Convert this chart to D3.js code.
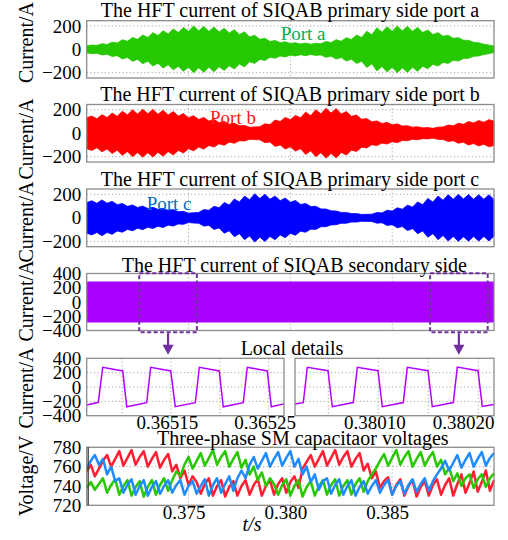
<!DOCTYPE html>
<html>
<head>
<meta charset="utf-8">
<script src="https://cdn.jsdelivr.net/npm/d3@7/dist/d3.min.js"></script>
<style>
  html, body { margin: 0; padding: 0; background: #fff; }
  svg { display: block; font-family: "Liberation Serif", "Times New Roman", serif; }
</style>
</head>
<body>
<svg id="chart" width="508" height="540"></svg>
<script>
// ---------------- data ----------------
// HFT current envelopes (A), sampled every 0.25 ms from t = 0.370 s (valley / peak alternating)
const envStart = 0.370, envStep = 0.00025;
const portA = [30,37,34,48,42,61,54,82,70,102,86,123,102,143,118,160,132,175,144,188,154,200,158,196,154,191,148,180,140,168,126,150,106,120,86,95,68,76,57,65,50,57,46,54,44,52,48,68,58,83,70,100,84,122,102,155,124,185,146,193,154,200,158,197,154,188,144,165,128,143,112,121,94,100,78,77,60,56,44,37,28];
const portB = [132,146,124,158,134,172,144,188,156,200,164,205,166,203,162,196,156,185,146,168,132,150,118,135,104,118,90,102,76,85,64,66,52,54,56,80,74,112,100,135,116,152,132,180,150,200,166,212,172,210,164,185,144,155,120,125,98,105,84,92,72,80,62,64,52,55,46,48,42,52,54,70,64,85,76,100,88,108,94,116,104];
const portC = [130,145,124,152,124,140,112,122,98,110,88,100,80,90,72,82,62,70,52,55,40,44,46,70,64,98,86,130,110,160,134,185,154,205,164,200,158,185,146,168,132,148,114,122,96,98,76,75,60,58,46,46,36,36,29,30,31,45,42,65,58,85,74,108,92,135,112,165,134,185,150,197,158,200,160,198,158,197,158,196,156];

// secondary-side HFT current band
const secTime = [0.370, 0.390];
const secAmp = [288, 288];

// zoomed windows marked on the secondary current (s, A)
const zoomWindows = [[0.37258, 0.37541], [0.38686, 0.38969]];
const zoomCurrent = [405, -425];

// local details: secondary current waveform vertices
const localLeftTime = [0.3650637,0.3650756,0.3650801,0.3651006,0.3651047,0.3651251,0.3651292,0.3651497,0.3651544,0.3651749,0.3651790,0.3651994,0.3652035,0.3652240,0.3652281,0.3652486,0.3652527,0.3652657];
const localLeftCurrent = [-252,-214,275,224,-275,-219,275,224,-275,-219,275,224,-275,-219,275,224,-275,-235];
const localRightTime = [0.3800167,0.380025,0.380029,0.3800497,0.380054,0.380075,0.380079,0.3800997,0.380104,0.380125,0.380129,0.3801497,0.380154,0.380175,0.380179,0.3801997,0.380204,0.3802157];
const localRightCurrent = [-238,-219,275,228,-275,-217,275,228,-275,-217,275,228,-275,-217,278,228,-270,-245];

// three-phase SM capacitor voltages (V), sampled every 0.2 ms from t = 0.370 s
const voltStart = 0.370, voltStep = 0.0002;
const voltRed = [755,762,750,758,766,772,760,768,776,761,769,777,762,770,776,760,768,775,759,767,773,755,762,748,756,741,750,744,732,742,748,730,740,746,729,739,745,730,740,746,731,741,747,730,740,746,731,742,748,733,744,750,738,758,765,772,760,768,776,761,769,777,762,770,776,760,768,774,756,763,748,755,738,745,749,731,741,747,730,740,746,729,739,745,730,741,747,731,741,748,730,742,752,733,743,755,734,744,756,735,746];
const voltGreen = [738,744,736,742,748,733,741,747,731,740,746,730,739,745,729,739,746,731,741,748,735,746,755,750,762,770,758,766,774,761,769,777,762,770,776,760,768,775,759,767,752,760,746,754,740,748,742,731,741,747,730,740,746,729,739,745,730,740,746,731,741,747,730,740,746,731,742,748,734,745,752,758,766,773,761,769,777,762,770,776,760,768,775,761,769,775,760,767,752,759,745,753,740,748,752,738,747,752,739,748,753];
const voltBlue = [758,766,772,762,768,752,760,745,748,733,741,747,731,740,746,730,739,745,732,740,746,733,741,746,731,740,745,732,740,747,730,741,748,733,742,750,735,748,756,748,762,770,758,766,774,760,768,775,761,769,776,760,768,752,760,744,752,736,745,748,732,741,747,731,740,746,730,739,745,732,740,746,733,741,746,731,740,745,732,741,747,734,742,748,735,745,752,758,766,756,764,772,759,767,774,760,768,775,761,769,774];

// tick values
const currentTicks = [-200, 0, 200];
const secTicks = [-400, -200, 0, 200, 400];
const voltTicks = [720, 740, 760, 780];
const timeTicks = [0.375, 0.380, 0.385];
const localLeftTicks = [0.36515, 0.36525];
const localRightTicks = [0.38010, 0.38020];
const localLeftGrid = [0.36510, 0.36515, 0.36520, 0.36525];
const localRightGrid = [0.38005, 0.38010, 0.38015, 0.38020];

// ---------------- drawing ----------------
const svg = d3.select('#chart');
const plotL = 86.7, plotR = 494;
const frameColor = '#8c8c8c';
const gridColor = '#a6a6a6';
const markColor = '#7030a0';

const x = d3.scaleLinear().domain([0.370, 0.390]).range([plotL, plotR]);

function frame(x0, y0, x1, y1) {
  svg.append('rect').attr('x', x0).attr('y', y0)
    .attr('width', x1 - x0).attr('height', y1 - y0)
    .attr('fill', 'none').attr('stroke', frameColor).attr('stroke-width', 1.3);
}

function hGrid(y, vals, x0, x1) {
  svg.append('g').selectAll('line').data(vals).join('line')
    .attr('x1', x0).attr('x2', x1).attr('y1', d => y(d)).attr('y2', d => y(d))
    .attr('stroke', gridColor).attr('stroke-width', 1).attr('stroke-dasharray', '1.2,2.4');
}

function vGrid(xs, vals, y0, y1) {
  svg.append('g').selectAll('line').data(vals).join('line')
    .attr('x1', d => xs(d)).attr('x2', d => xs(d)).attr('y1', y0).attr('y2', y1)
    .attr('stroke', gridColor).attr('stroke-width', 1).attr('stroke-dasharray', '1.2,2.4');
}

function leftAxis(y, vals, x0) {
  const g = svg.append('g').attr('transform', `translate(${x0},0)`)
    .call(d3.axisLeft(y).tickValues(vals).tickSize(0).tickPadding(5.5).tickFormat(d3.format('d')));
  g.select('.domain').remove();
  g.attr('font-family', null).attr('font-size', null);
  g.selectAll('text').attr('font-size', 19).attr('fill', '#000');
  return g;
}

function bottomAxis(xs, vals, y0, fmt, dx) {
  const g = svg.append('g').attr('transform', `translate(0,${y0})`)
    .call(d3.axisBottom(xs).tickValues(vals).tickSize(0).tickPadding(0.3).tickFormat(d3.format(fmt)));
  g.select('.domain').remove();
  g.attr('font-family', null).attr('font-size', null);
  g.selectAll('text').attr('font-size', 19).attr('fill', '#000').attr('dx', dx);
  return g;
}

function title(text, cx, y) {
  svg.append('text').attr('x', cx).attr('y', y).attr('text-anchor', 'middle')
    .attr('font-size', 20).attr('fill', '#000').text(text);
}

function yLabel(text, cy) {
  svg.append('text').attr('transform', `translate(33,${cy}) rotate(-90)`)
    .attr('text-anchor', 'middle').attr('font-size', 20).attr('fill', '#000').text(text);
}

// ---- primary side port currents ----
const portPanels = [
  { vals: portA, color: '#26c900', top: 20.7, bottom: 78, title: 'The HFT current of SIQAB primary side port a', titleY: 16.7,
    label: 'Port a', labelColor: '#00b050', lx: 280.7, ly: 40, axisY: 42.5 },
  { vals: portB, color: '#ff0000', top: 104.5, bottom: 162, title: 'The HFT current of SIQAB primary side port b', titleY: 101,
    label: 'Port b', labelColor: '#ff1a1a', lx: 210, ly: 124.3, axisY: 139 },
  { vals: portC, color: '#0000ff', top: 189, bottom: 246.7, title: 'The HFT current of SIQAB primary side port c', titleY: 185.7,
    label: 'Port c', labelColor: '#0070c0', lx: 146.7, ly: 210, axisY: 222 }
];

portPanels.forEach(p => {
  const y = d3.scaleLinear().domain([-245, 245]).range([p.bottom, p.top]);
  hGrid(y, currentTicks, plotL, plotR);
  vGrid(x, timeTicks, p.top, p.bottom);
  const area = d3.area()
    .x((d, i) => x(envStart + i * envStep))
    .y0(d => y(-d)).y1(d => y(d));
  svg.append('path').datum(p.vals).attr('d', area).attr('fill', p.color)
    .attr('stroke', p.color).attr('stroke-width', 0.8);
  frame(plotL, p.top, plotR, p.bottom);
  leftAxis(y, currentTicks, plotL);
  title(p.title, 290, p.titleY);
  svg.append('text').attr('x', p.lx).attr('y', p.ly).attr('font-size', 19)
    .attr('fill', p.labelColor).text(p.label);
  yLabel('Current/A', p.axisY);
});

// ---- secondary side current ----
const secTop = 273.5, secBottom = 330.5;
const ySec = d3.scaleLinear().domain([-400, 400]).range([secBottom, secTop]);
hGrid(ySec, [-200, 0, 200], plotL, plotR);
vGrid(x, timeTicks, secTop, secBottom);
svg.append('path').datum(secTime.map((t, i) => [t, secAmp[i]]))
  .attr('d', d3.area().x(d => x(d[0])).y0(d => ySec(-d[1])).y1(d => ySec(d[1])))
  .attr('fill', '#aa00ff');
frame(plotL, secTop, plotR, secBottom);
leftAxis(ySec, secTicks, plotL);
title('The HFT current of SIQAB secondary side', 294.3, 271.7);
yLabel('Current/A', 301);

// local details scales
const locTop = 358.3, locBottom = 415.7;
const yLoc = d3.scaleLinear().domain([-400, 400]).range([locBottom, locTop]);
const xLeft = d3.scaleLinear().domain([0.3650637, 0.3652657]).range([plotL, 284]);
const xRight = d3.scaleLinear().domain([0.3800167, 0.3802157]).range([295, plotR]);

// dashed zoom windows and arrows
zoomWindows.forEach(w => {
  const x0 = x(w[0]), x1 = x(w[1]);
  svg.append('rect').attr('x', x0).attr('y', ySec(zoomCurrent[0]))
    .attr('width', x1 - x0).attr('height', ySec(zoomCurrent[1]) - ySec(zoomCurrent[0]))
    .attr('fill', 'none').attr('stroke', markColor).attr('stroke-width', 2)
    .attr('stroke-dasharray', '4,2.5');
  const cx = (x0 + x1) / 2;
  const yStart = ySec(zoomCurrent[1]) + 1, yTip = locTop - 3.5;
  svg.append('line').attr('x1', cx).attr('x2', cx).attr('y1', yStart).attr('y2', yTip - 8)
    .attr('stroke', markColor).attr('stroke-width', 2.2);
  svg.append('path')
    .attr('d', `M${cx - 5.5},${yTip - 10}L${cx + 5.5},${yTip - 10}L${cx},${yTip}Z`)
    .attr('fill', markColor);
});

// ---- local details ----
[[xLeft, localLeftGrid, localLeftTime, localLeftCurrent, localLeftTicks, plotL, 284],
 [xRight, localRightGrid, localRightTime, localRightCurrent, localRightTicks, 295, plotR]]
  .forEach(([xs, grid, tt, ii, ticks, x0, x1], k) => {
    hGrid(yLoc, [-200, 0, 200], x0, x1);
    vGrid(xs, grid, locTop, locBottom);
    svg.append('path').datum(tt.map((t, i) => [t, ii[i]]))
      .attr('d', d3.line().x(d => xs(d[0])).y(d => yLoc(d[1])))
      .attr('fill', 'none').attr('stroke', '#b400ff').attr('stroke-width', 1.5);
    frame(x0, locTop, x1, locBottom);
    const ax = bottomAxis(xs, ticks, locBottom, '.5f', -4);
    if (k === 1) {
      ax.selectAll('text').filter(d => d === ticks[ticks.length - 1])
        .attr('text-anchor', 'end').attr('dx', 0)
        .attr('x', x1 - xs(ticks[ticks.length - 1]));
    }
  });
leftAxis(yLoc, secTicks, plotL);
title('Local details', 292, 355);
yLabel('Current/A', 388);

// ---- three-phase SM capacitor voltages ----
const vTop = 447.3, vBottom = 505.3;
const yV = d3.scaleLinear().domain([720, 780]).range([vBottom, vTop]);
hGrid(yV, [740, 760], plotL, plotR);
vGrid(x, timeTicks, vTop, vBottom);
const vLine = d3.line().x((d, i) => x(voltStart + i * voltStep)).y(d => yV(d));
[[voltRed, '#ff1e32'], [voltGreen, '#28c800'], [voltBlue, '#1e8cff']].forEach(([vals, c]) => {
  svg.append('path').datum(vals).attr('d', vLine)
    .attr('fill', 'none').attr('stroke', c).attr('stroke-width', 2.5).attr('stroke-linejoin', 'round');
});
frame(plotL, vTop, plotR, vBottom);
svg.append('line').attr('x1', plotL + 1.5).attr('x2', plotL + 1.5).attr('y1', vTop).attr('y2', vBottom)
  .attr('stroke', '#333').attr('stroke-width', 1.2);
leftAxis(yV, voltTicks, plotL);
bottomAxis(x, timeTicks, vBottom, '.3f', -5);
title('Three-phase SM capacitaor voltages', 302.8, 445);
yLabel('Voltage/V', 476);

// time axis label
svg.append('text').attr('x', 252).attr('y', 531).attr('text-anchor', 'middle')
  .attr('font-size', 20).attr('font-style', 'italic').attr('fill', '#000').text('t/s');
</script>
</body>
</html>
